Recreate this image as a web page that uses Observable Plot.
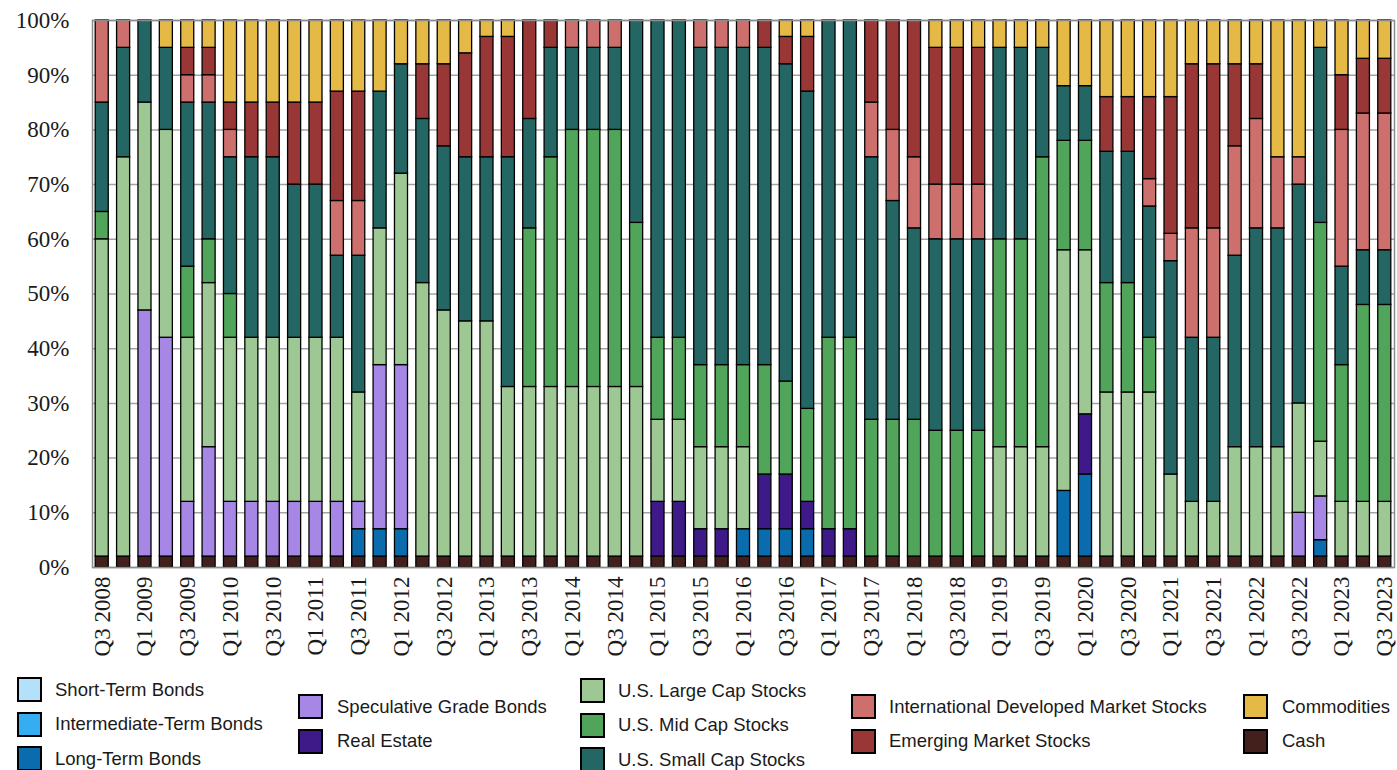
<!DOCTYPE html>
<html>
<head>
<meta charset="utf-8">
<script src="https://cdn.jsdelivr.net/npm/d3@7"></script>
<script src="https://cdn.jsdelivr.net/npm/@observablehq/plot@0.6"></script>
<style>
  html, body { margin: 0; padding: 0; background: #fff; overflow: hidden; }
  #wrap { position: relative; width: 1397px; height: 770px; }
  .lg-item { position: absolute; display: flex; align-items: center; font-family: "Liberation Sans", Arial, sans-serif; font-size: 18.5px; color: #1a1a1a; white-space: nowrap; }
  .lg-sw { width: 25px; height: 25px; box-sizing: border-box; border: 2px solid #000; }
  .lg-tx { position: absolute; }
</style>
</head>
<body>
<div id="wrap"><div id="chart"></div><div id="legend"></div></div>
<script>
// ---- Data ----
const quarters = [
  "Q3 2008","Q4 2008","Q1 2009","Q2 2009","Q3 2009","Q4 2009","Q1 2010","Q2 2010","Q3 2010","Q4 2010",
  "Q1 2011","Q2 2011","Q3 2011","Q4 2011","Q1 2012","Q2 2012","Q3 2012","Q4 2012","Q1 2013","Q2 2013",
  "Q3 2013","Q4 2013","Q1 2014","Q2 2014","Q3 2014","Q4 2014","Q1 2015","Q2 2015","Q3 2015","Q4 2015",
  "Q1 2016","Q2 2016","Q3 2016","Q4 2016","Q1 2017","Q2 2017","Q3 2017","Q4 2017","Q1 2018","Q2 2018",
  "Q3 2018","Q4 2018","Q1 2019","Q2 2019","Q3 2019","Q4 2019","Q1 2020","Q2 2020","Q3 2020","Q4 2020",
  "Q1 2021","Q2 2021","Q3 2021","Q4 2021","Q1 2022","Q2 2022","Q3 2022","Q4 2022","Q1 2023","Q2 2023",
  "Q3 2023"
];
const tickLabels = [
  "Q3 2008","Q1 2009","Q3 2009","Q1 2010","Q3 2010","Q1 2011","Q3 2011","Q1 2012","Q3 2012","Q1 2013",
  "Q3 2013","Q1 2014","Q3 2014","Q1 2015","Q3 2015","Q1 2016","Q3 2016","Q1 2017","Q3 2017","Q1 2018",
  "Q3 2018","Q1 2019","Q3 2019","Q1 2020","Q3 2020","Q1 2021","Q3 2021","Q1 2022","Q3 2022","Q1 2023",
  "Q3 2023"
];
const yTicks = [0,10,20,30,40,50,60,70,80,90,100];

const cash = [
  2,2,2,2,2,2,2,2,2,2, 2,2,2,2,2,2,2,2,2,2, 2,2,2,2,2,2,2,2,2,2,
  2,2,2,2,2,2,2,2,2,2, 2,2,2,2,2,2,2,2,2,2, 2,2,2,2,2,2,2,2,2,2, 2];
const shortTermBonds = [
  0,0,0,0,0,0,0,0,0,0, 0,0,0,0,0,0,0,0,0,0, 0,0,0,0,0,0,0,0,0,0,
  0,0,0,0,0,0,0,0,0,0, 0,0,0,0,0,0,0,0,0,0, 0,0,0,0,0,0,0,0,0,0, 0];
const intermediateTermBonds = [
  0,0,0,0,0,0,0,0,0,0, 0,0,0,0,0,0,0,0,0,0, 0,0,0,0,0,0,0,0,0,0,
  0,0,0,0,0,0,0,0,0,0, 0,0,0,0,0,0,0,0,0,0, 0,0,0,0,0,0,0,0,0,0, 0];
const longTermBonds = [
  0,0,0,0,0,0,0,0,0,0, 0,0,5,5,5,0,0,0,0,0, 0,0,0,0,0,0,0,0,0,0,
  5,5,5,5,0,0,0,0,0,0, 0,0,0,0,0,12,15,0,0,0, 0,0,0,0,0,0,0,3,0,0, 0];
const speculativeGradeBonds = [
  0,0,45,40,10,20,10,10,10,10, 10,10,5,30,30,0,0,0,0,0, 0,0,0,0,0,0,0,0,0,0,
  0,0,0,0,0,0,0,0,0,0, 0,0,0,0,0,0,0,0,0,0, 0,0,0,0,0,0,8,8,0,0, 0];
const realEstate = [
  0,0,0,0,0,0,0,0,0,0, 0,0,0,0,0,0,0,0,0,0, 0,0,0,0,0,0,10,10,5,5,
  0,10,10,5,5,5,0,0,0,0, 0,0,0,0,0,0,11,0,0,0, 0,0,0,0,0,0,0,0,0,0, 0];
const largeCap = [
  58,73,38,38,30,30,30,30,30,30, 30,30,20,25,35,50,45,43,43,31, 31,31,31,31,31,31,15,15,15,15,
  15,0,0,0,0,0,0,0,0,0, 0,0,20,20,20,44,30,30,30,30, 15,10,10,20,20,20,20,10,10,10, 10];
const midCap = [
  5,0,0,0,13,8,8,0,0,0, 0,0,0,0,0,0,0,0,0,0, 29,42,47,47,47,30,15,15,15,15,
  15,20,17,17,35,35,25,25,25,23, 23,23,38,38,53,20,20,20,20,10, 0,0,0,0,0,0,0,40,25,36, 36];
const smallCap = [
  20,20,15,15,30,25,25,33,33,28, 28,15,25,25,20,30,30,30,30,42, 20,20,15,15,15,37,58,58,58,58,
  58,58,58,58,58,58,48,40,35,35, 35,35,35,35,20,10,10,24,24,24, 39,30,30,35,40,40,40,32,18,10, 10];
const intlDeveloped = [
  15,5,0,0,5,5,5,0,0,0, 0,10,10,0,0,0,0,0,0,0, 0,0,5,5,5,0,0,0,5,5,
  5,0,0,0,0,0,10,13,13,10, 10,10,0,0,0,0,0,0,0,5, 5,20,20,20,20,13,5,0,25,25, 25];
const emergingMarkets = [
  0,0,0,0,5,5,5,10,10,15, 15,20,20,0,0,10,15,19,22,22, 18,5,0,0,0,0,0,0,0,0,
  0,5,5,10,0,0,15,20,25,25, 25,25,0,0,0,0,0,10,10,15, 25,30,30,15,10,0,0,0,10,10, 10];
const commodities = [
  0,0,0,5,5,5,15,15,15,15, 15,13,13,13,8,8,8,6,3,3, 0,0,0,0,0,0,0,0,0,0,
  0,0,3,3,0,0,0,0,0,5, 5,5,5,5,5,12,12,14,14,14, 14,8,8,8,8,25,25,5,10,7, 7];

// stacking order bottom -> top
const seriesNames = [
  "Cash","Short-Term Bonds","Intermediate-Term Bonds","Long-Term Bonds","Speculative Grade Bonds",
  "Real Estate","U.S. Large Cap Stocks","U.S. Mid Cap Stocks","U.S. Small Cap Stocks",
  "International Developed Market Stocks","Emerging Market Stocks","Commodities"
];
const seriesValues = [
  cash, shortTermBonds, intermediateTermBonds, longTermBonds, speculativeGradeBonds,
  realEstate, largeCap, midCap, smallCap, intlDeveloped, emergingMarkets, commodities
];
const seriesColors = [
  "#43201c","#b3e0fa","#35adf0","#0b6cad","#a787e6",
  "#3d1a88","#9dc893","#50a55a","#236663",
  "#cd6f6c","#993636","#e5b946"
];

const rows = [];
seriesNames.forEach((name, si) => {
  seriesValues[si].forEach((v, qi) => {
    if (v > 0) rows.push({quarter: quarters[qi], series: name, value: v});
  });
});

const chart = Plot.plot({
  width: 1397,
  height: 672,
  marginLeft: 92,
  marginRight: 3,
  marginTop: 20,
  marginBottom: 105,
  style: {fontFamily: "'Liberation Serif', 'Times New Roman', serif", fontSize: "23px", color: "#1a1a1a", background: "#fff"},
  x: {type: "band", domain: quarters, paddingInner: 0.39, paddingOuter: 0.15, round: false, label: null},
  y: {domain: [0, 100], label: null},
  color: {domain: seriesNames, range: seriesColors},
  marks: [
    Plot.gridY(yTicks, {stroke: "#a3a3a3", strokeOpacity: 1, strokeWidth: 1.5}),
    Plot.barY(rows, Plot.stackY({x: "quarter", y: "value", z: "series", fill: "series", order: seriesNames, stroke: "#000", strokeWidth: 1.3})),
    Plot.frame({stroke: "#8c8c8c", strokeWidth: 1.5}),
    Plot.axisY({ticks: yTicks, tickFormat: d => d + "%", tickSize: 0, tickPadding: 23, label: null}),
    Plot.axisX({ticks: tickLabels, tickRotate: -90, tickSize: 0, tickPadding: 9, label: null})
  ]
});
document.getElementById("chart").appendChild(chart);

// ---- Legend ----
const legendColumns = [
  {names: ["Short-Term Bonds","Intermediate-Term Bonds","Long-Term Bonds"], sw: 17, tx: 55, top: 677},
  {names: ["Speculative Grade Bonds","Real Estate"], sw: 298, tx: 337, top: 694},
  {names: ["U.S. Large Cap Stocks","U.S. Mid Cap Stocks","U.S. Small Cap Stocks"], sw: 580, tx: 618, top: 678},
  {names: ["International Developed Market Stocks","Emerging Market Stocks"], sw: 851, tx: 889, top: 694},
  {names: ["Commodities","Cash"], sw: 1243, tx: 1282, top: 694}
];
const legend = document.getElementById("legend");
legendColumns.forEach(col => {
  col.names.forEach((name, i) => {
    const item = document.createElement("div");
    item.className = "lg-item";
    item.style.left = col.sw + "px";
    item.style.top = (col.top + i * 34.5) + "px";
    const sw = document.createElement("div");
    sw.className = "lg-sw";
    sw.style.background = seriesColors[seriesNames.indexOf(name)];
    const tx = document.createElement("span");
    tx.className = "lg-tx";
    tx.style.left = (col.tx - col.sw) + "px";
    tx.textContent = name;
    item.appendChild(sw);
    item.appendChild(tx);
    legend.appendChild(item);
  });
});
</script>
</body>
</html>
